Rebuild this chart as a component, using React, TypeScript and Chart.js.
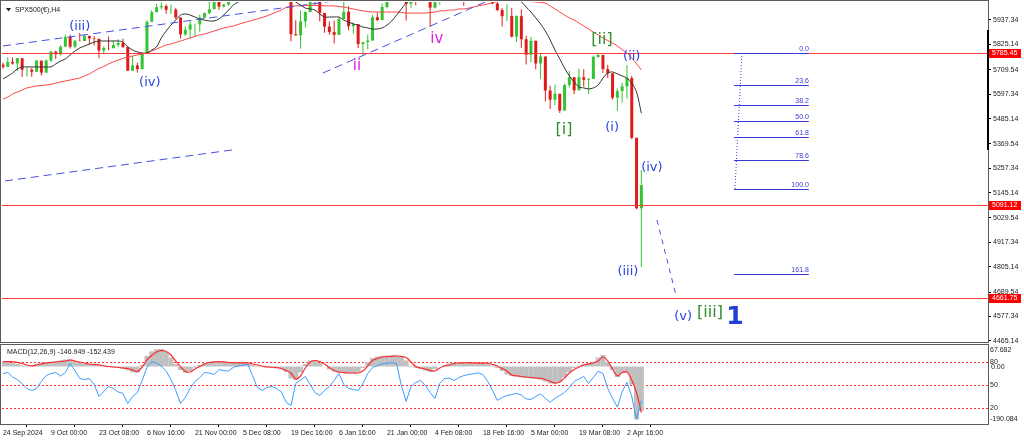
import React, { useEffect, useRef } from 'react';
import { Chart, registerables } from 'chart.js';

Chart.register(...registerables);

// ---------------- data ----------------
const SYMBOL_TITLE = 'SPX500(€),H4';

const PRICE_TICKS = [5937.34, 5825.14, 5709.54, 5597.34, 5485.14, 5369.54, 5257.34, 5145.14, 5029.54, 4917.34, 4805.14, 4689.54, 4577.34, 4465.14];

const TIME_LABELS = ['24 Sep 2024', '9 Oct 00:00', '23 Oct 08:00', '6 Nov 16:00', '21 Nov 00:00', '5 Dec 08:00', '19 Dec 16:00', '6 Jan 16:00', '21 Jan 00:00', '4 Feb 08:00', '18 Feb 16:00', '5 Mar 00:00', '19 Mar 08:00', '2 Apr 16:00'];
const TIME_TICK_BARS = [0, 10, 20, 30, 40, 50, 60, 70, 80, 90, 100, 110, 120, 130];

const OPEN = [5733, 5722, 5745, 5738, 5762, 5709, 5709, 5700, 5751, 5696,
  5751, 5792, 5780, 5815, 5859, 5815, 5842, 5841, 5864, 5853,
  5851, 5797, 5809, 5808, 5823, 5832, 5813, 5705, 5729, 5712,
  5782, 5929, 5973, 5996, 6001, 5984, 5985, 5949, 5871, 5893,
  5917, 5917, 5948, 5969, 5987, 6021, 5999, 6008, 6032, 6047,
  6050, 6086, 6075, 6090, 6053, 6034, 6085, 6051, 6051, 6074,
  6050, 5872, 5867, 5931, 5974, 6040, 6037, 5970, 5907, 5882,
  5869, 5942, 5975, 5909, 5918, 5827, 5836, 5843, 5950, 5937,
  5997, 6049, 6086, 6119, 6101, 6012, 6068, 6039, 6071, 6040,
  5994, 6037, 6061, 6083, 6026, 6066, 6068, 6051, 6115, 6114,
  6129, 6144, 6117, 6013, 5983, 5955, 5956, 5861, 5955, 5849,
  5778, 5842, 5738, 5770, 5614, 5572, 5599, 5522, 5639, 5675,
  5615, 5675, 5663, 5667, 5768, 5777, 5712, 5693, 5581, 5612,
  5633, 5671, 5397, 5074];
const HIGH = [5741, 5767, 5765, 5763, 5762, 5720, 5718, 5753, 5751, 5757,
  5796, 5796, 5822, 5871, 5870, 5846, 5878, 5872, 5866, 5863,
  5851, 5817, 5862, 5842, 5849, 5851, 5813, 5772, 5741, 5783,
  5936, 5983, 6012, 6018, 6009, 6008, 5994, 5949, 5909, 5932,
  5920, 5963, 5972, 6021, 6025, 6021, 6012, 6044, 6053, 6053,
  6089, 6099, 6099, 6090, 6066, 6092, 6085, 6078, 6085, 6074,
  6071, 5936, 5982, 5978, 6040, 6049, 6037, 5970, 5930, 5935,
  5950, 6021, 6000, 5927, 5918, 5837, 5871, 5961, 5972, 6013,
  6051, 6100, 6119, 6128, 6101, 6074, 6068, 6087, 6121, 6040,
  6042, 6062, 6084, 6101, 6073, 6076, 6068, 6116, 6127, 6129,
  6147, 6144, 6117, 6043, 5992, 6009, 5994, 5959, 5986, 5865,
  5860, 5842, 5783, 5770, 5636, 5642, 5599, 5645, 5704, 5675,
  5715, 5711, 5670, 5775, 5786, 5777, 5732, 5693, 5623, 5650,
  5731, 5680, 5397, 5249];
const LOW = [5714, 5722, 5733, 5704, 5676, 5678, 5677, 5700, 5683, 5696,
  5745, 5759, 5775, 5815, 5807, 5808, 5840, 5841, 5825, 5821,
  5762, 5784, 5799, 5808, 5815, 5810, 5703, 5705, 5696, 5712,
  5782, 5929, 5973, 5985, 5966, 5965, 5942, 5853, 5865, 5853,
  5860, 5883, 5944, 5964, 5987, 5984, 5995, 6003, 6032, 6034,
  6050, 6071, 6075, 6048, 6024, 6034, 6051, 6035, 6051, 6036,
  5840, 5866, 5805, 5903, 5974, 6007, 5932, 5879, 5870, 5829,
  5869, 5942, 5890, 5874, 5809, 5777, 5803, 5843, 5933, 5937,
  5990, 6049, 6074, 6089, 5935, 5994, 6005, 6028, 6031, 5905,
  5990, 6007, 6048, 6020, 6026, 6043, 6003, 6051, 6107, 6100,
  6111, 6084, 6009, 5978, 5908, 5933, 5857, 5837, 5810, 5733,
  5743, 5711, 5667, 5565, 5529, 5547, 5511, 5522, 5628, 5597,
  5615, 5632, 5598, 5667, 5764, 5694, 5671, 5572, 5520, 5558,
  5577, 5390, 5069, 4805];
const CLOSE = [5722, 5745, 5738, 5762, 5709, 5709, 5700, 5751, 5696, 5751,
  5792, 5780, 5815, 5859, 5815, 5842, 5841, 5864, 5853, 5851,
  5797, 5809, 5808, 5823, 5832, 5813, 5705, 5729, 5712, 5782,
  5929, 5973, 5996, 6001, 5984, 5985, 5949, 5871, 5893, 5917,
  5917, 5948, 5969, 5987, 6021, 5999, 6008, 6032, 6047, 6050,
  6086, 6075, 6090, 6053, 6034, 6085, 6051, 6051, 6074, 6050,
  5872, 5867, 5931, 5974, 6040, 6037, 5970, 5907, 5882, 5869,
  5942, 5975, 5909, 5918, 5827, 5836, 5843, 5950, 5937, 5997,
  6049, 6086, 6119, 6101, 6012, 6068, 6039, 6071, 6040, 5994,
  6037, 6061, 6083, 6026, 6066, 6068, 6051, 6115, 6114, 6129,
  6144, 6117, 6013, 5983, 5955, 5956, 5861, 5955, 5849, 5778,
  5842, 5738, 5770, 5614, 5572, 5599, 5522, 5639, 5675, 5615,
  5675, 5663, 5667, 5768, 5777, 5712, 5693, 5581, 5612, 5633,
  5671, 5397, 5074, 5180];

const MA_FAST = [5667, 5680, 5694, 5713, 5722, 5722, 5722, 5722, 5722, 5722,
  5722, 5736, 5749, 5759, 5777, 5795, 5809, 5818, 5827, 5836,
  5841, 5841, 5841, 5841, 5841, 5836, 5814, 5800, 5791, 5786,
  5786, 5800, 5814, 5855, 5887, 5914, 5937, 5960, 5965, 5960,
  5951, 5942, 5937, 5933, 5933, 5942, 5960, 5983, 6006, 6020,
  6032, 6045, 6055, 6062, 6066, 6068, 6068, 6066, 6065, 6050,
  6040, 6020, 6006, 5992, 5988, 5983, 5965, 5951, 5951, 5951,
  5951, 5937, 5928, 5919, 5914, 5905, 5901, 5896, 5896, 5901,
  5914, 5933, 5960, 5988, 6015, 6030, 6040, 6050, 6055, 6052,
  6050, 6048, 6050, 6055, 6060, 6065, 6070, 6075, 6085, 6095,
  6100, 6100, 6095, 6080, 6060, 6040, 6032, 6028, 6020, 5997,
  5974, 5947, 5919, 5887, 5846, 5800, 5759, 5717, 5681, 5653,
  5630, 5626, 5621, 5626, 5639, 5671, 5694, 5699, 5690, 5681,
  5671, 5648, 5607, 5510];
const MA_SLOW = [5575, 5584, 5598, 5607, 5616, 5626, 5630, 5635, 5637, 5639,
  5642, 5648, 5653, 5658, 5662, 5667, 5671, 5681, 5690, 5703,
  5715, 5724, 5736, 5745, 5754, 5761, 5768, 5772, 5777, 5781,
  5786, 5795, 5804, 5814, 5823, 5827, 5834, 5841, 5848, 5855,
  5862, 5869, 5873, 5880, 5887, 5894, 5901, 5905, 5910, 5917,
  5924, 5930, 5937, 5942, 5949, 5956, 5965, 5974, 5983, 5995,
  5999, 6002, 6002, 6004, 6004, 6004, 6004, 6002, 6002, 6002,
  5999, 5997, 5992, 5988, 5983, 5979, 5976, 5974, 5974, 5974,
  5974, 5974, 5974, 5972, 5969, 5969, 5969, 5969, 5969, 5972,
  5974, 5979, 5979, 5983, 5983, 5988, 5988, 5992, 5997, 6002,
  6006, 6011, 6018, 6022, 6027, 6030, 6030, 6029, 6027, 6025,
  6022, 6020, 6018, 6015, 6002, 5988, 5974, 5960, 5947, 5937,
  5924, 5910, 5896, 5882, 5869, 5855, 5843, 5832, 5818, 5802,
  5786, 5763, 5736, 5708];

const MACD_MAIN = [16, 15, 12, 8, 4, 2, 5, 9, 12, 14,
  16, 18, 20, 23, 22, 18, 13, 9, 7, 5,
  3, 0, -2, -3, -5, -8, -13, -19, -20, 5,
  35, 50, 57, 58, 48, 30, 8, -12, -20, -15,
  -4, 5, 12, 15, 17, 16, 14, 13, 13, 12,
  12, 9, 5, 2, -1, -3, -4, -6, -10, -18,
  -40, -45, -20, 8, 20, 21, 12, 0, -10, -17,
  -21, -22, -23, -22, -18, -5, 15, 28, 33, 35,
  36, 37, 36, 32, 20, 3, -5, -9, -14, -18,
  -8, 0, 5, 10, 12, 13, 13, 12, 12, 11,
  11, 8, 3, -5, -15, -27, -32, -34, -36, -38,
  -39, -40, -44, -50, -56, -58, -52, -36, -18, -5,
  3, 8, 11, 16, 30, 38, 15, -12, -35, -22,
  -20, -60, -175, -146.949];
const MACD_SIGNAL = [15.9, 15.9, 15.9, 13.2, 9.9, 5.0, 1.7, 5.0, 8.3, 11.6,
  13.2, 14.9, 16.5, 18.2, 21.5, 18.2, 14.9, 11.6, 8.3, 6.6,
  5.0, 1.7, 0, -1.7, -3.3, -5.0, -6.6, -11.6, -17.2, -1.7,
  21.5, 36.4, 47.9, 52.2, 49.6, 38.0, 18.2, -0.7, -16.5, -18.2,
  -8.3, 0, 8.3, 13.2, 14.9, 15.9, 14.9, 13.2, 12.6, 12.2,
  11.6, 11.6, 8.3, 5.0, 1.7, -1.7, -2.6, -4.0, -6.6, -13.2,
  -21.5, -41.3, -31.4, -5.0, 14.9, 19.8, 16.5, 8.3, -3.3, -13.2,
  -18.2, -20.5, -21.5, -21.5, -21.5, -14.9, 1.7, 19.8, 26.4, 31.4,
  32.4, 33.7, 34.7, 33.1, 29.7, 14.9, 0, -5.0, -8.3, -13.2,
  -14.9, -5.0, 1.7, 5.0, 9.9, 11.6, 12.2, 12.6, 11.9, 11.2,
  10.9, 10.6, 6.6, 1.7, -6.6, -14.9, -28.1, -30.7, -33.1, -34.7,
  -36.4, -38.0, -39.0, -43.0, -49.6, -54.5, -51.2, -38.0, -21.5, -9.9,
  -1.7, 5.0, 8.3, 11.6, 18.2, 31.4, 18.2, -8.3, -31.4, -19.8,
  -18.2, -44.6, -87.6, -152.439];
const OSC = [64.3, 66.4, 60.2, 57.0, 51.9, 45.5, 43.0, 45.5, 54.5, 62.1,
  64.7, 66.0, 61.5, 66.0, 77.5, 68.5, 58.3, 57.0, 58.3, 50.7,
  35.3, 41.7, 48.1, 45.5, 41.1, 39.2, 26.4, 35.3, 40.4, 55.8,
  72.4, 80.0, 78.1, 74.3, 67.9, 57.0, 43.0, 26.4, 34.0, 45.5,
  54.5, 59.6, 66.0, 65.3, 63.4, 69.8, 68.5, 67.9, 72.7, 74.3,
  75.6, 76.8, 62.1, 46.8, 43.0, 46.8, 48.1, 45.5, 41.1, 27.7,
  23.8, 51.9, 56.4, 60.9, 50.7, 40.4, 36.6, 43.0, 48.1, 55.8,
  64.7, 50.7, 45.5, 44.3, 43.0, 51.9, 64.7, 72.4, 74.9, 77.1,
  78.1, 78.7, 77.5, 49.4, 28.9, 48.1, 53.2, 55.8, 49.4, 40.4,
  32.8, 51.9, 58.3, 59.0, 55.8, 59.6, 62.1, 63.4, 64.3, 65.6,
  63.4, 54.5, 43.0, 30.2, 34.0, 36.6, 37.9, 39.2, 37.2, 32.1,
  31.5, 35.3, 38.5, 32.8, 28.0, 32.8, 36.6, 40.4, 46.8, 54.5,
  57.7, 60.9, 51.9, 59.6, 67.6, 64.7, 45.5, 32.8, 21.7, 41.1,
  53.6, 35.3, 6.0, 30.2];

const MACD_MAX = 67.682;
const MACD_MIN = -190.084;
const OSC_LEVELS = [80, 50, 20];

const LEVELS = [5785.45, 5091.12, 4661.75];

const FIB_HIGH = 5785.45;
const FIB_LOW = 5160;
const FIB_RATIOS = [0, 23.6, 38.2, 50, 61.8, 78.6, 100, 161.8];
const FIB_LEFT_BAR = 152.3;
const FIB_RIGHT_BAR = 167.9;
const FIB_TOP_BAR = 153.96;
const FIB_BOTTOM_BAR = 152.5;

const TREND_START_BAR = [0, 0.42, 66.67, 136.25];
const TREND_START_PRICE = [5818.2, 5199.0, 5694.3, 5020.2];
const TREND_END_BAR = [68.1, 47.7, 100.83, 140.2];
const TREND_END_PRICE = [6022.2, 5341.2, 6023.1, 4676.2];

const WAVE_TEXT = ['(iii)', '(iv)', 'ii', 'iv', '[i]', '[ii]', '(i)', '(ii)', '(iii)', '(iv)', '(v)', '[iii]', '1'];
const WAVE_BAR = [16.0, 30.6, 73.75, 90.4, 116.9, 124.8, 126.9, 131.0, 130.2, 135.2, 141.7, 147.3, 152.5];
const WAVE_PRICE = [5905, 5649, 5726, 5850, 5433, 5846, 5442, 5768, 4782, 5259, 4575, 4594, 4571];
const WAVE_KIND = ['blue', 'blue', 'magenta', 'magenta', 'green', 'green', 'blue', 'blue', 'blue', 'blue', 'blue', 'green', 'degree'];

// ---------------- styles / layout ----------------
const X_MIN = -0.2;
const X_MAX = 205.22;
const Y_MIN = 4460.55;
const Y_MAX = 6019.89;

const AXIS_FONT = 'Liberation Sans';
const WAVE_FONT = 'DejaVu Sans';
const BULL = '#33c433';
const BEAR = '#e01a1a';
const FRAME_COLOR = '#5c5c5c';
const LEVEL_COLOR = '#ff3c3c';
const TREND_COLOR = '#4650e2';
const TREND_DASHES = [[8, 5], [8, 5], [8, 5], [5, 5]];
const FIB_COLOR = '#3a3ad6';
const WAVE_STYLE: Record<string, { color: string; size: number; weight: string }> = {
  blue: { color: '#2b45e0', size: 13, weight: 'normal' },
  magenta: { color: '#e020e0', size: 15, weight: 'normal' },
  green: { color: '#2e8f2e', size: 16, weight: 'normal' },
  degree: { color: '#1f3fd6', size: 25, weight: 'bold' },
};

const mainOverlay = {
  id: 'mainOverlay',
  afterDatasetsDraw(chart: any) {
    const { ctx, chartArea: a } = chart;
    const xs = chart.scales.x;
    const ys = chart.scales.y;
    const px = (b: number) => xs.getPixelForValue(b);
    const py = (p: number) => ys.getPixelForValue(p);
    const seg = (x1: number, y1: number, x2: number, y2: number) => {
      ctx.beginPath();
      ctx.moveTo(x1, y1);
      ctx.lineTo(x2, y2);
      ctx.stroke();
    };
    ctx.save();
    ctx.beginPath();
    ctx.rect(a.left, a.top, a.right - a.left, a.bottom - a.top);
    ctx.clip();

    ctx.strokeStyle = LEVEL_COLOR;
    ctx.lineWidth = 1;
    LEVELS.forEach((v) => {
      const y = Math.round(py(v)) + 0.5;
      seg(a.left, y, a.right, y);
    });

    ctx.strokeStyle = TREND_COLOR;
    TREND_START_BAR.forEach((b, i) => {
      ctx.setLineDash(TREND_DASHES[i]);
      seg(px(b), py(TREND_START_PRICE[i]), px(TREND_END_BAR[i]), py(TREND_END_PRICE[i]));
    });

    ctx.setLineDash([]);
    ctx.strokeStyle = FIB_COLOR;
    ctx.fillStyle = FIB_COLOR;
    ctx.font = `7px "${AXIS_FONT}"`;
    ctx.textAlign = 'right';
    ctx.textBaseline = 'bottom';
    FIB_RATIOS.forEach((r) => {
      const price = FIB_HIGH - (r / 100) * (FIB_HIGH - FIB_LOW);
      const y = Math.round(py(price)) + 0.5;
      seg(px(FIB_LEFT_BAR), y, px(FIB_RIGHT_BAR), y);
      ctx.fillText(r.toFixed(1), px(FIB_RIGHT_BAR), y - 1);
    });
    ctx.setLineDash([1, 2]);
    seg(px(FIB_TOP_BAR), py(FIB_HIGH), px(FIB_BOTTOM_BAR), py(FIB_LOW));
    ctx.setLineDash([]);

    ctx.textAlign = 'center';
    ctx.textBaseline = 'middle';
    WAVE_TEXT.forEach((t, i) => {
      const st = WAVE_STYLE[WAVE_KIND[i]];
      ctx.font = `${st.weight} ${st.size}px "${WAVE_FONT}"`;
      ctx.fillStyle = st.color;
      ctx.fillText(t, px(WAVE_BAR[i]), py(WAVE_PRICE[i]));
    });

    // header
    ctx.fillStyle = '#222';
    ctx.font = `7px "${AXIS_FONT}"`;
    ctx.textAlign = 'left';
    ctx.textBaseline = 'middle';
    ctx.fillText(SYMBOL_TITLE, a.left + 13, a.top + 8);
    ctx.beginPath();
    ctx.moveTo(a.left + 4, a.top + 6);
    ctx.lineTo(a.left + 9, a.top + 6);
    ctx.lineTo(a.left + 6.5, a.top + 9.5);
    ctx.closePath();
    ctx.fill();
    ctx.restore();
  },
  afterDraw(chart: any) {
    const { ctx, chartArea: a } = chart;
    const ys = chart.scales.y;
    ctx.save();
    ctx.strokeStyle = FRAME_COLOR;
    ctx.lineWidth = 1;
    ctx.strokeRect(0.5, 0.5, a.right, a.bottom);
    ctx.fillStyle = '#000';
    ctx.fillRect(a.right - 1, 30, 2, 120);
    ctx.font = `7px "${AXIS_FONT}"`;
    ctx.textAlign = 'left';
    ctx.textBaseline = 'middle';
    LEVELS.forEach((v) => {
      const y = Math.round(ys.getPixelForValue(v));
      ctx.fillStyle = '#ff0000';
      ctx.fillRect(a.right + 1, y - 4, 32, 9);
      ctx.fillStyle = '#ffffff';
      ctx.fillText(v.toFixed(2), a.right + 4, y + 0.5);
    });
    ctx.restore();
  },
};

const macdOverlay = {
  id: 'macdOverlay',
  beforeDatasetsDraw(chart: any) {
    const { ctx, chartArea: a } = chart;
    const yo = chart.scales.yOsc;
    ctx.save();
    ctx.strokeStyle = '#ff3030';
    ctx.lineWidth = 1;
    ctx.setLineDash([2, 2]);
    OSC_LEVELS.forEach((l) => {
      const y = Math.round(yo.getPixelForValue(l)) + 0.5;
      ctx.beginPath();
      ctx.moveTo(a.left, y);
      ctx.lineTo(a.right, y);
      ctx.stroke();
    });
    ctx.restore();
  },
  afterDraw(chart: any) {
    const { ctx, chartArea: a } = chart;
    const yo = chart.scales.yOsc;
    const ym = chart.scales.yMacd;
    ctx.save();
    ctx.strokeStyle = FRAME_COLOR;
    ctx.lineWidth = 1;
    ctx.strokeRect(0.5, a.top - 1.5, a.right, a.bottom - a.top + 2);
    ctx.fillStyle = '#222';
    ctx.font = `7px "${AXIS_FONT}"`;
    ctx.textAlign = 'left';
    ctx.textBaseline = 'middle';
    const title = `MACD(12,26,9) ${MACD_MAIN[MACD_MAIN.length - 1].toFixed(3)} ${MACD_SIGNAL[MACD_SIGNAL.length - 1].toFixed(3)}`;
    ctx.fillText(title, 7, a.top + 6.5);
    const lx = a.right + 2;
    ctx.textBaseline = 'top';
    ctx.fillText(MACD_MAX.toFixed(3), lx, a.top + 1);
    ctx.textBaseline = 'bottom';
    ctx.fillText(MACD_MIN.toFixed(3), lx, a.bottom - 1);
    ctx.textBaseline = 'middle';
    OSC_LEVELS.forEach((l) => ctx.fillText(String(l), lx, yo.getPixelForValue(l)));
    ctx.fillText((0).toFixed(2), lx + 1, ym.getPixelForValue(0) + 1);
    ctx.restore();
  },
};

export default function App() {
  const mainRef = useRef<HTMLCanvasElement>(null);
  const macdRef = useRef<HTMLCanvasElement>(null);

  useEffect(() => {
    Chart.defaults.font.family = AXIS_FONT;
    const colors = CLOSE.map((c, i) => (c >= OPEN[i] ? BULL : BEAR));
    const mainChart = new Chart(mainRef.current as HTMLCanvasElement, {
      type: 'bar',
      data: {
        datasets: [
          {
            type: 'line',
            data: MA_FAST.map((v, i) => ({ x: i, y: v })),
            borderColor: '#333333',
            borderWidth: 1,
            pointRadius: 0,
            tension: 0.35,
            order: 0,
          } as any,
          {
            type: 'line',
            data: MA_SLOW.map((v, i) => ({ x: i, y: v })),
            borderColor: '#ff4545',
            borderWidth: 1,
            pointRadius: 0,
            tension: 0.35,
            order: 1,
          } as any,
          {
            type: 'bar',
            data: OPEN.map((o, i) => ({ x: i, y: [Math.min(o, CLOSE[i]), Math.max(o, CLOSE[i])] })),
            backgroundColor: colors,
            barThickness: 3,
            grouped: false,
            inflateAmount: 0,
            order: 2,
          } as any,
          {
            type: 'bar',
            data: LOW.map((l, i) => ({ x: i, y: [l, HIGH[i]] })),
            backgroundColor: colors,
            barThickness: 1,
            grouped: false,
            inflateAmount: 0,
            order: 3,
          } as any,
        ],
      },
      options: {
        animation: false,
        responsive: false,
        devicePixelRatio: 1,
        events: [],
        layout: { padding: { left: 2, top: 2, bottom: 1, right: 0 } },
        plugins: { legend: { display: false }, tooltip: { enabled: false } },
        scales: {
          x: { type: 'linear', min: X_MIN, max: X_MAX, display: false, offset: false },
          y: {
            type: 'linear',
            position: 'right',
            min: Y_MIN,
            max: Y_MAX,
            afterBuildTicks: (s: any) => {
              s.ticks = PRICE_TICKS.map((v) => ({ value: v }));
            },
            afterFit: (s: any) => {
              s.width = 36;
              s.paddingTop = 0;
              s.paddingBottom = 0;
            },
            grid: { drawOnChartArea: false, tickLength: 3, color: '#000' },
            border: { display: false },
            ticks: {
              padding: 2,
              autoSkip: false,
              color: '#222',
              font: { size: 7, family: AXIS_FONT },
              callback: (v: any) => Number(v).toFixed(2),
            },
          },
        },
      } as any,
      plugins: [mainOverlay],
    });

    const macdChart = new Chart(macdRef.current as HTMLCanvasElement, {
      type: 'bar',
      data: {
        datasets: [
          {
            type: 'line',
            data: OSC.map((v, i) => ({ x: i, y: v })),
            borderColor: '#3d9bff',
            borderWidth: 1,
            pointRadius: 0,
            tension: 0,
            yAxisID: 'yOsc',
            order: 0,
          } as any,
          {
            type: 'line',
            data: MACD_SIGNAL.map((v, i) => ({ x: i, y: v })),
            borderColor: '#ff2a2a',
            borderWidth: 1.2,
            pointRadius: 0,
            tension: 0.3,
            yAxisID: 'yMacd',
            order: 1,
          } as any,
          {
            type: 'bar',
            data: MACD_MAIN.map((v, i) => ({ x: i, y: v })),
            backgroundColor: '#c0c0c0',
            barThickness: 5,
            grouped: false,
            inflateAmount: 0,
            yAxisID: 'yMacd',
            order: 2,
          } as any,
        ],
      },
      options: {
        animation: false,
        responsive: false,
        devicePixelRatio: 1,
        events: [],
        layout: { padding: { left: 2, top: 3, bottom: 0, right: 36 } },
        plugins: { legend: { display: false }, tooltip: { enabled: false } },
        scales: {
          x: {
            type: 'linear',
            min: X_MIN,
            max: X_MAX,
            offset: false,
            afterBuildTicks: (s: any) => {
              s.ticks = TIME_TICK_BARS.map((v) => ({ value: v }));
            },
            afterFit: (s: any) => {
              s.height = 17;
              s.paddingLeft = 0;
              s.paddingRight = 0;
            },
            grid: { drawOnChartArea: false, tickLength: 3, color: '#000' },
            border: { display: false },
            ticks: {
              align: 'start',
              autoSkip: false,
              maxRotation: 0,
              padding: 2,
              color: '#222',
              font: { size: 7, family: AXIS_FONT },
              callback: (_v: any, idx: number) => TIME_LABELS[idx],
            },
          },
          yMacd: { type: 'linear', min: MACD_MIN, max: MACD_MAX, display: false },
          yOsc: { type: 'linear', min: 0, max: 100, display: false },
        },
      } as any,
      plugins: [macdOverlay],
    });

    return () => {
      mainChart.destroy();
      macdChart.destroy();
    };
  }, []);

  return (
    <div style={{ position: 'absolute', left: 0, top: 0, width: 1024, height: 441, background: '#ffffff', overflow: 'hidden' }}>
      <canvas ref={mainRef} width={1024} height={343} style={{ position: 'absolute', left: 0, top: 0, width: 1024, height: 343 }} />
      <canvas ref={macdRef} width={1024} height={98} style={{ position: 'absolute', left: 0, top: 343, width: 1024, height: 98 }} />
    </div>
  );
}
